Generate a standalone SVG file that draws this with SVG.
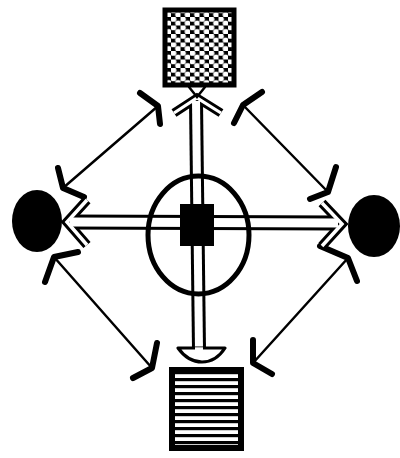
<svg xmlns="http://www.w3.org/2000/svg" width="400" height="458" viewBox="0 0 400 458">
<style>
.blk{fill:#000}
.thin{fill:none;stroke:#000;stroke-width:2.5;stroke-linecap:round}
.head{fill:none;stroke:#000;stroke-width:6;stroke-linecap:round;stroke-linejoin:round}
.ob{fill:none;stroke:#000;stroke-linecap:butt;stroke-linejoin:miter}
.ow{fill:none;stroke:#fff;stroke-linecap:butt;stroke-linejoin:miter}
</style>
<defs>
<pattern id="hex" width="9.5" height="8.5" patternUnits="userSpaceOnUse">
<rect width="9.5" height="8.5" fill="#000"/>
<ellipse cx="2.4" cy="2.1" rx="3" ry="2.7" fill="#fff"/>
<ellipse cx="7.15" cy="6.35" rx="3" ry="2.7" fill="#fff"/>
</pattern>
<pattern id="stripe" width="20" height="7" patternUnits="userSpaceOnUse">
<rect width="20" height="7" fill="#fff"/>
<rect y="0" width="20" height="3.2" fill="#000"/>
</pattern>
</defs>
<g id="connectors">
<line class="thin" x1="63" y1="188" x2="158" y2="106"/>
<polyline class="head" points="140,93 158,106 160,124"/>
<polyline class="head" points="58,168 63,188 84,197"/>
<line class="thin" x1="243" y1="105" x2="328" y2="192"/>
<polyline class="head" points="262,92 243,105 234,123"/>
<polyline class="head" points="336,167 328,192 310,199"/>
<line class="thin" x1="54" y1="257" x2="152" y2="368"/>
<polyline class="head" points="78,252 54,257 45,282"/>
<polyline class="head" points="157,343 152,368 133,378"/>
<line class="thin" x1="348" y1="258" x2="253" y2="363"/>
<polyline class="head" points="320,246 348,258 357,281"/>
<polyline class="head" points="253,340 253,363 272,374"/>
<polyline class="ob" stroke-width="9.5" points="87,200 67,222 87,245"/>
<polyline class="ob" stroke-width="9.5" points="322,203 342,224 322,246"/>
<polyline class="ob" stroke-width="9" points="174,113 197,98 221,113"/>
<line class="ob" stroke-width="15" x1="70" y1="222" x2="338" y2="223"/>
<line class="ob" stroke-width="14" x1="196" y1="101" x2="199" y2="350"/>
<polyline class="ow" stroke-width="3.5" points="87,200 67,222 87,245"/>
<polyline class="ow" stroke-width="3.5" points="322,203 342,224 322,246"/>
<polyline class="ow" stroke-width="3.2" points="174,113 197,98 221,113"/>
<line class="ow" stroke-width="9" x1="70" y1="222" x2="338" y2="223"/>
<line class="ow" stroke-width="8" x1="196" y1="101" x2="199" y2="350"/>
<path d="M178,348 L225,348 Q216,362 202,362 Q188,362 178,348 Z" fill="#fff" stroke="#000" stroke-width="3.2" stroke-linejoin="round"/>
<line x1="195" y1="349" x2="203" y2="349" stroke="#fff" stroke-width="3.4"/>
<polyline class="thin" points="189,87 197,97 205,87"/>
</g>
<g id="center">
<ellipse cx="198.5" cy="235" rx="50.5" ry="59" fill="none" stroke="#000" stroke-width="5"/>
<rect class="blk" x="180" y="204" width="34" height="42"/>
</g>
<g id="top">
<rect x="165" y="10" width="69" height="75" fill="url(#hex)" stroke="#000" stroke-width="5"/>
</g>
<g id="bottom">
<rect x="172" y="370" width="69" height="78" fill="url(#stripe)" stroke="#000" stroke-width="6"/>
</g>
<g id="left">
<ellipse class="blk" cx="37" cy="221" rx="25" ry="31"/>
</g>
<g id="right">
<ellipse class="blk" cx="374" cy="226" rx="26" ry="31"/>
</g>
</svg>
